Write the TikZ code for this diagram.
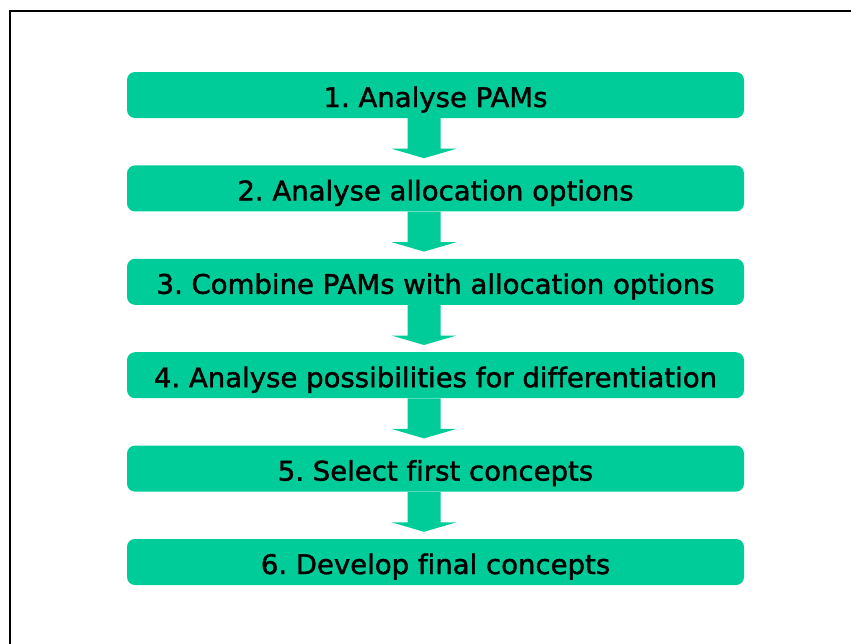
\documentclass[tikz,border=0pt]{standalone}
\usepackage{fontspec}
\setmainfont{DejaVu Sans}[FakeStretch=1.02, FakeBold=1.5, Ligatures=NoCommon]
\usetikzlibrary{calc}
\definecolor{stepgreen}{HTML}{00CC99}
\tikzset{
  stepbox/.style={fill=stepgreen, rounded corners=8pt, minimum width=617pt,
    minimum height=46pt, inner sep=0pt, text=black,
    text height=24pt, text depth=0pt,
    font=\fontsize{27pt}{30pt}\selectfont\frenchspacing},
  flowarrow/.style={fill=stepgreen},
  frameline/.style={draw=black, line width=2pt}
}
\begin{document}
\begin{tikzpicture}[x=1pt, y=-1pt]
  \useasboundingbox (0,0) rectangle (851,643);
  \clip (0,0) rectangle (851,643);
  % outer frame, running past the right and bottom edges
  \draw[frameline] (10,11) rectangle (900,700);
  % process steps
  \node[stepbox] (b1) at (435.5,95.0)  {1. Analyse PAMs};
  \node[stepbox] (b2) at (435.5,188.4) {2. Analyse allocation options};
  \node[stepbox] (b3) at (435.5,281.8) {3. Combine PAMs with allocation options};
  \node[stepbox] (b4) at (435.5,375.2) {4. Analyse possibilities for differentiation};
  \node[stepbox] (b5) at (435.5,468.6) {5. Select first concepts};
  \node[stepbox] (b6) at (435.5,562.0) {6. Develop final concepts};
  % block arrows between consecutive steps
  \foreach \a/\b in {b1/b2,b2/b3,b3/b4,b4/b5,b5/b6}{
    \fill[flowarrow]
      ($(\a.south)+(-28,0)$) -- ($(\a.south)+(5,0)$)
      -- ($(\a.south)+(5,30.5)$) -- ($(\a.south)+(21,30.5)$)
      -- ($(\b.north)+(-11.5,-7)$)
      -- ($(\a.south)+(-44,30.5)$) -- ($(\a.south)+(-28,30.5)$) -- cycle;
  }
\end{tikzpicture}
\end{document}
